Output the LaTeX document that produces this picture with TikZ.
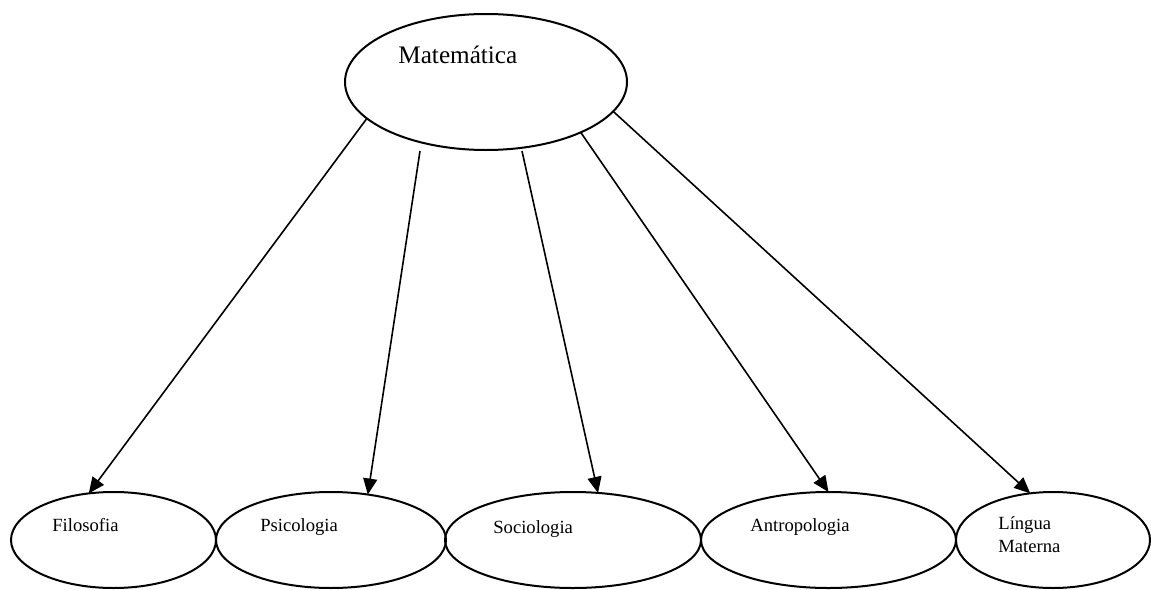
\documentclass[tikz,border=0pt]{standalone}
\usepackage{fontspec}
\setmainfont{Liberation Serif}
\usetikzlibrary{shapes.geometric,arrows.meta}

\begin{document}
\begin{tikzpicture}[x=0.5pt, y=-0.5pt,
    area/.style={draw, ellipse, line width=1pt, minimum height=48pt, inner sep=0pt, outer sep=0pt},
    rotulo/.style={anchor=base west, inner sep=0pt, align=left, font=\fontsize{9.3}{11.5}\selectfont},
    seta/.style={-{Triangle[length=8pt,width=7pt]}, line width=0.8pt}]
    \useasboundingbox (0,0) rectangle (1151,589);

    % tema central
    \node[area, minimum width=141pt, minimum height=68pt] (mat) at (486,82) {};
    \node[rotulo, font=\fontsize{12.6}{15}\selectfont] (matT) at (398,63) {Matemática};

    % areas de conhecimento
    \node[area, minimum width=102.5pt] (fil) at (113.5,540) {};
    \node[area, minimum width=115pt] (psi) at (331,540) {};
    \node[area, minimum width=128pt] (soc) at (573,540) {};
    \node[area, minimum width=127.5pt] (ant) at (828.5,540) {};
    \node[area, minimum width=97pt] (lin) at (1053,540) {};

    \node[rotulo] (filT) at (52,531) {Filosofia};
    \node[rotulo] (psiT) at (260,531) {Psicologia};
    \node[rotulo] (socT) at (493,533) {Sociologia};
    \node[rotulo] (antT) at (750,531) {Antropologia};
    \node[rotulo] (linT) at (998,552) {Língua\\Materna};

    \coordinate (psiS) at (420,151);
    \coordinate (socS) at (522,151);

    \draw[seta] (mat.197) -- (fil.118);
    \draw[seta] (psiS) -- (psi.51);
    \draw[seta] (socS) -- (soc.62);
    \draw[seta] (mat.332) -- (ant.90);
    \draw[seta] (mat.347) -- (lin.116);
\end{tikzpicture}
\end{document}
